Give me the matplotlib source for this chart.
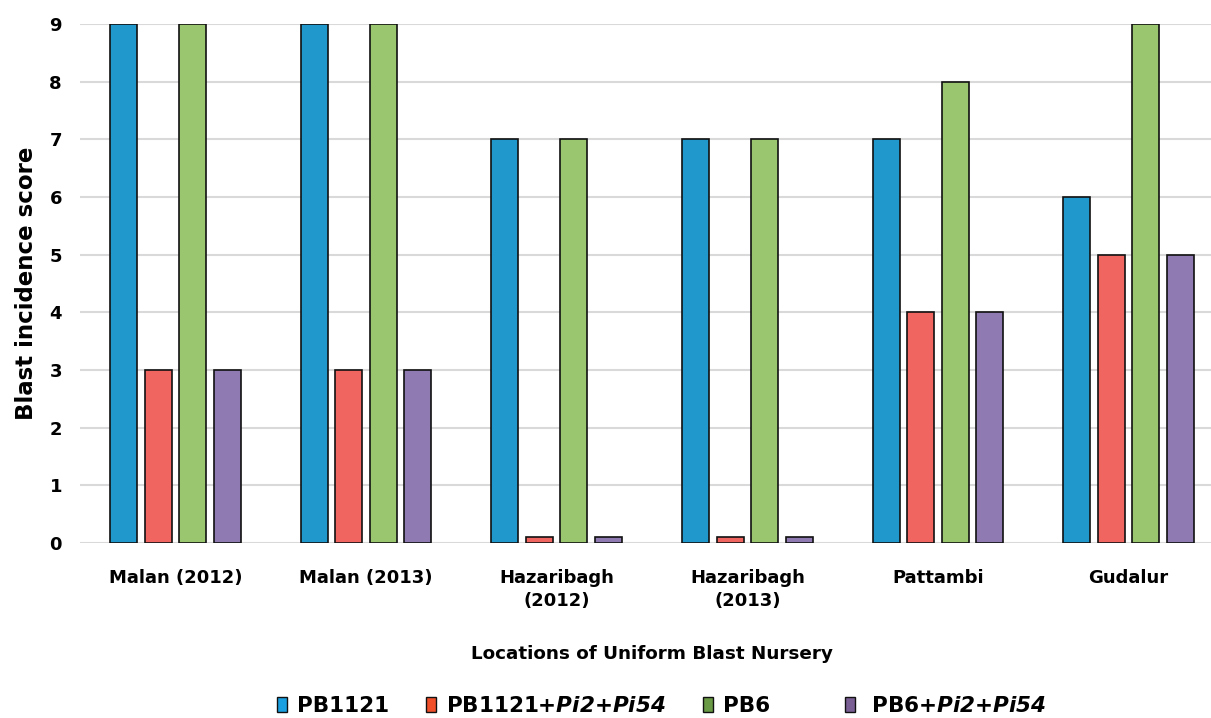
import numpy as np
import matplotlib
matplotlib.use("Agg")
import matplotlib.pyplot as plt
from matplotlib.patches import Patch

plt.rcParams['font.family'] = ['DejaVu Sans']
plt.rcParams['font.weight'] = 'bold'
plt.rcParams['mathtext.fontset'] = 'custom'
plt.rcParams['mathtext.it'] = 'DejaVu Sans:italic:bold'
plt.rcParams['mathtext.rm'] = 'DejaVu Sans:italic:bold'

locations = ["Malan (2012)", "Malan (2013)", "Hazaribagh\n(2012)",
             "Hazaribagh\n(2013)", "Pattambi", "Gudalur"]
series = ["PB1121", "PB1121+$Pi2$+$Pi54$", "PB6     ", " PB6+$Pi2$+$Pi54$"]
pb1121 = [9, 9, 7, 7, 7, 6]
pb1121_pi = [3, 3, 0.1, 0.1, 4, 5]
pb6 = [9, 9, 7, 7, 8, 9]
pb6_pi = [3, 3, 0.1, 0.1, 4, 5]
values = [pb1121, pb1121_pi, pb6, pb6_pi]

bar_colors = ["#2198cc", "#f0655f", "#99c66f", "#8f7ab2"]
legend_colors = ["#1a9fe0", "#f04f2a", "#6a9a45", "#7a5f94"]

fig = plt.figure(figsize=(12.11, 7.18), dpi=100)
ax = fig.add_axes([80 / 1211, 1 - 543 / 718, 1144 / 1211, (543 - 24) / 718])

x = np.arange(len(locations))
w = 0.142
step = 0.181
for i, vals in enumerate(values):
    ax.bar(x + (i - 1.5) * step, vals, width=w, color=bar_colors[i],
           edgecolor='#111111', linewidth=1.2, zorder=3)

ax.set_xlim(-0.5, len(locations) - 0.5)
ax.set_ylim(0, 9)
ax.set_yticks(range(10))
ax.yaxis.grid(True, color='#d9d9d9', linewidth=1.5, zorder=0)
for s in ax.spines.values():
    s.set_visible(False)
ax.tick_params(axis='both', length=0, labelsize=13)
ax.tick_params(axis='y', pad=13)
ax.tick_params(axis='x', pad=19)
ax.set_xticks(x)
ax.set_xticklabels(locations, linespacing=1.35)
ax.set_ylabel("Blast incidence score", fontsize=16.5, fontweight='bold')
ax.yaxis.set_label_coords(-0.037, 0.5)
ax.set_xlabel("Locations of Uniform Blast Nursery", fontsize=13.2, fontweight='bold')
ax.xaxis.set_label_coords(0.5, -0.197)

handles = [Patch(facecolor=c, edgecolor='#111111', linewidth=1.0) for c in legend_colors]
fig.legend(handles, series, loc='center', bbox_to_anchor=(662 / 1211, 1 - 706 / 718),
           ncol=4, frameon=False, fontsize=15.5, handlelength=0.45, handleheight=0.75,
           handletextpad=0.45, columnspacing=1.75)

fig.savefig("out.png", dpi=100)
